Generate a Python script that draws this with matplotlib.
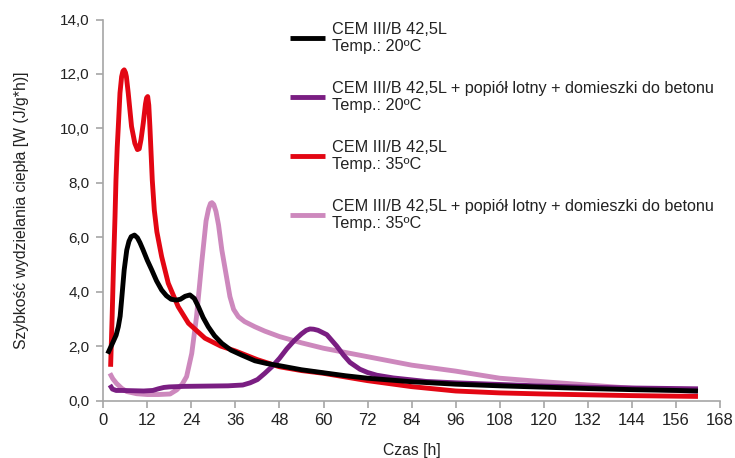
import matplotlib
matplotlib.use("Agg")
import matplotlib.pyplot as plt
from matplotlib.ticker import FuncFormatter

# ---- data ----
black_h = [1.2, 2.5, 3.5, 4.1, 4.6, 5.0, 5.7, 6.4, 7.0, 7.6, 8.5, 9.3, 10.0, 10.8, 12, 13.2, 14.5, 15.9, 17.2, 18.5,
           19.9, 21.0, 22.3, 23.6, 24.8, 25.9, 27.2, 28.6, 30.3, 32.3, 34.8, 37.7, 41.3, 44.5, 48, 54, 60, 66, 72,
           84, 96, 108, 120, 132, 144, 156, 162]
black_v = [1.72, 2.1, 2.4, 2.71, 3.1, 3.7, 4.8, 5.53, 5.85, 6.02, 6.08, 5.98, 5.8, 5.55, 5.15, 4.8, 4.4, 4.06, 3.85,
           3.72, 3.69, 3.72, 3.83, 3.88, 3.75, 3.45, 3.05, 2.71, 2.38, 2.1, 1.85, 1.67, 1.46, 1.36, 1.28, 1.13, 1.02,
           0.91, 0.82, 0.69, 0.6, 0.54, 0.49, 0.44, 0.4, 0.37, 0.35]

purple_h = [1.8, 2.5, 3.5, 5, 8, 11, 13.5, 15, 16.5, 18, 22, 28, 34, 38, 40, 42, 44, 46, 48, 50, 52, 54, 55.3, 56.3,
            57.3, 58.5, 60.9, 63.6, 65.5, 67.2, 69.9, 72, 74.5, 79, 88, 96, 108, 120, 132, 144, 156, 162]
purple_v = [0.57, 0.42, 0.37, 0.37, 0.36, 0.35, 0.37, 0.43, 0.48, 0.5, 0.52, 0.53, 0.54, 0.57, 0.65, 0.77, 1.0, 1.25,
            1.55, 1.9, 2.2, 2.45, 2.58, 2.63, 2.62, 2.58, 2.42, 2.0, 1.66, 1.4, 1.15, 1.03, 0.93, 0.83, 0.7, 0.65,
            0.59, 0.53, 0.49, 0.46, 0.44, 0.43]

red_h = [2.0, 2.4, 2.8, 3.2, 3.46, 3.8, 4.1, 4.55, 5.0, 5.35, 5.7, 6.05, 6.3, 6.8, 7.7, 8.6, 9.3, 9.8, 10.3, 10.9,
         11.5, 11.8, 12.1, 12.4, 12.7, 13.35, 13.9, 14.6, 15.9, 17.7, 20.4, 23.2, 27.7, 32, 36, 42, 48, 54, 60,
         72, 84, 96, 108, 120, 132, 144, 156, 162]
red_v = [1.24, 3.0, 5.0, 6.76, 8.1, 9.3, 10.07, 11.3, 11.9, 12.1, 12.15, 12.05, 11.9, 11.3, 10.07, 9.45, 9.22, 9.25,
         9.6, 10.2, 10.9, 11.12, 11.17, 10.85, 10.07, 8.1, 7.0, 6.2, 5.29, 4.31, 3.45, 2.84, 2.29, 2.0, 1.82, 1.5,
         1.24, 1.1, 1.0, 0.73, 0.51, 0.35, 0.28, 0.24, 0.21, 0.18, 0.16, 0.15]

pink_h = [1.8, 2.6, 3.6, 5, 6.4, 9.1, 12, 15, 18.2, 20.0, 21.5, 22.7, 24.1, 25.4, 26.8, 28.0, 28.7, 29.2, 29.6, 30.1,
          30.7, 31.4, 32.3, 33.5, 34.5, 35.5, 36.8, 38.5, 41.3, 44, 48, 54, 60, 72, 84, 96, 108, 120, 132, 144,
          156, 162]
pink_v = [1.0, 0.8, 0.63, 0.45, 0.33, 0.25, 0.22, 0.22, 0.24, 0.39, 0.6, 0.88, 1.73, 3.08, 5.04, 6.6, 7.05, 7.24,
          7.27, 7.2, 6.95, 6.45, 5.53, 4.6, 3.82, 3.35, 3.08, 2.9, 2.71, 2.55, 2.35, 2.12, 1.92, 1.61, 1.3, 1.08,
          0.82, 0.69, 0.57, 0.45, 0.37, 0.33]

labels = ["CEM III/B 42,5L\nTemp.: 20ºC",
          "CEM III/B 42,5L + popiół lotny + domieszki do betonu\nTemp.: 20ºC",
          "CEM III/B 42,5L\nTemp.: 35ºC",
          "CEM III/B 42,5L + popiół lotny + domieszki do betonu\nTemp.: 35ºC"]
colors = ["#000000", "#7a1e82", "#e30613", "#cd88bd"]

x_ticks = list(range(0, 169, 12))
y_ticks = [0, 2, 4, 6, 8, 10, 12, 14]

plt.rcParams['font.family'] = ['Liberation Sans', 'DejaVu Sans']

fig = plt.figure(figsize=(7.35, 4.58), dpi=100)
ax = fig.add_axes([0.1405, 0.1255, 0.9796 - 0.1405, 0.9574 - 0.1255])

series = [(black_h, black_v), (purple_h, purple_v), (red_h, red_v), (pink_h, pink_v)]
order = [3, 2, 1, 0]
lines = {}
for i in order:
    h, v = series[i]
    ln, = ax.plot(h, v, color=colors[i], lw=3.5, solid_capstyle='butt', solid_joinstyle='round',
                  label=labels[i])
    lines[i] = ln

ax.set_xlim(0, 168)
ax.set_ylim(0, 14)
ax.set_xticks(x_ticks)
ax.set_yticks(y_ticks)
ax.yaxis.set_major_formatter(FuncFormatter(lambda v, p: f"{v:.1f}".replace(".", ",")))

for s in ["top", "right"]:
    ax.spines[s].set_visible(False)
for s in ["left", "bottom"]:
    ax.spines[s].set_color("#a6a6a6")
    ax.spines[s].set_linewidth(1.2)
ax.tick_params(axis='both', direction='out', color='#a6a6a6', length=5, width=1.2)
ax.tick_params(axis='x', labelsize=12, labelcolor='#222222', pad=4)
ax.tick_params(axis='y', labelsize=11, labelcolor='#222222', pad=5)

ax.set_xlabel("Czas [h]", fontsize=11.3, color='#222222', labelpad=11)
ax.set_ylabel("Szybkość wydzielania ciepła [W (J/g*h)]", fontsize=11.3, color='#222222')
ax.yaxis.set_label_coords(-0.121, 0.5)

leg = ax.legend([lines[i] for i in range(4)], labels, loc='upper left',
                bbox_to_anchor=(290 / 735, 1 - 21.5 / 458), bbox_transform=fig.transFigure,
                frameon=False, fontsize=11.7, handlelength=2.15, handletextpad=0.42,
                labelspacing=1.64, borderpad=0, borderaxespad=0)
for t in leg.get_texts():
    t.set_color('#222222')

fig.savefig("out.png", dpi=100)
